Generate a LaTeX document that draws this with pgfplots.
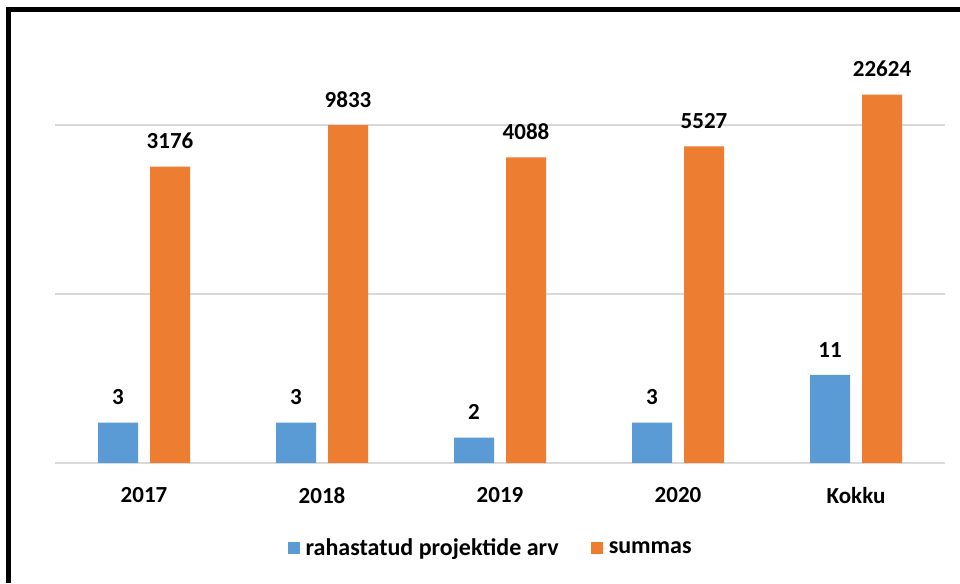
\documentclass[border=0pt]{standalone}
\usepackage{pgfplots}
\pgfplotsset{compat=1.18}
\usepackage{fontspec}
\setmainfont{Carlito}
\definecolor{cblue}{HTML}{5B9BD5}
\definecolor{corange}{HTML}{ED7D31}
\definecolor{cgrid}{HTML}{D9D9D9}
\newcommand{\lbl}{\fontsize{23}{28}\selectfont\bfseries}
\newcommand{\lgd}{\fontsize{24}{28}\selectfont\bfseries}
\begin{document}
\begin{tikzpicture}[x=1pt,y=1pt]
\useasboundingbox (0,0) rectangle (960,583);
\fill[white] (0,0) rectangle (960,583);
\begin{axis}[
  at={(55pt,120pt)}, anchor=south west,
  scale only axis, width=890pt, height=423pt,
  ymode=log, ymin=1, ymax=1e5,
  xmin=-0.5, xmax=4.5,
  xtick={0,1,2,3,4}, xticklabels={2017,2018,2019,2020,Kokku},
  xticklabel style={font=\lbl, inner sep=0pt, anchor=north, yshift=-24pt},
  ytick={1,100,10000}, yticklabels={},
  ymajorgrids, grid style={cgrid, line width=2pt},
  axis line style={draw=none}, major tick length=0pt,
  ybar=12pt, bar width=40pt,
  point meta=explicit symbolic,
  nodes near coords,
  every node near coord/.append style={font=\lbl, inner sep=0pt, anchor=south, yshift=17.5pt, black},
  legend columns=2,
  legend style={at={(0.4895,-0.201)}, anchor=center, draw=none, fill=none, font=\lgd,
    /tikz/every even column/.append style={column sep=30pt}},
  legend image code/.code={\path (0pt,0pt) -- (16pt,0pt); \fill[#1] (0pt,-6pt) rectangle (12pt,6pt);},
]
\addplot[fill=cblue, draw=none] coordinates {(0,3) [3] (1,3) [3] (2,2) [2] (3,3) [3] (4,11) [11]};
\addplot[fill=corange, draw=none] coordinates {(0,3176) [3176] (1,9833) [9833] (2,4088) [4088] (3,5527) [5527] (4,22624) [22624]};
\legend{rahastatud projektide arv, summas}
\end{axis}
\draw[line width=5pt, line join=miter] (8.5,0) -- (8.5,573.5) -- (960,573.5);
\end{tikzpicture}
\end{document}
